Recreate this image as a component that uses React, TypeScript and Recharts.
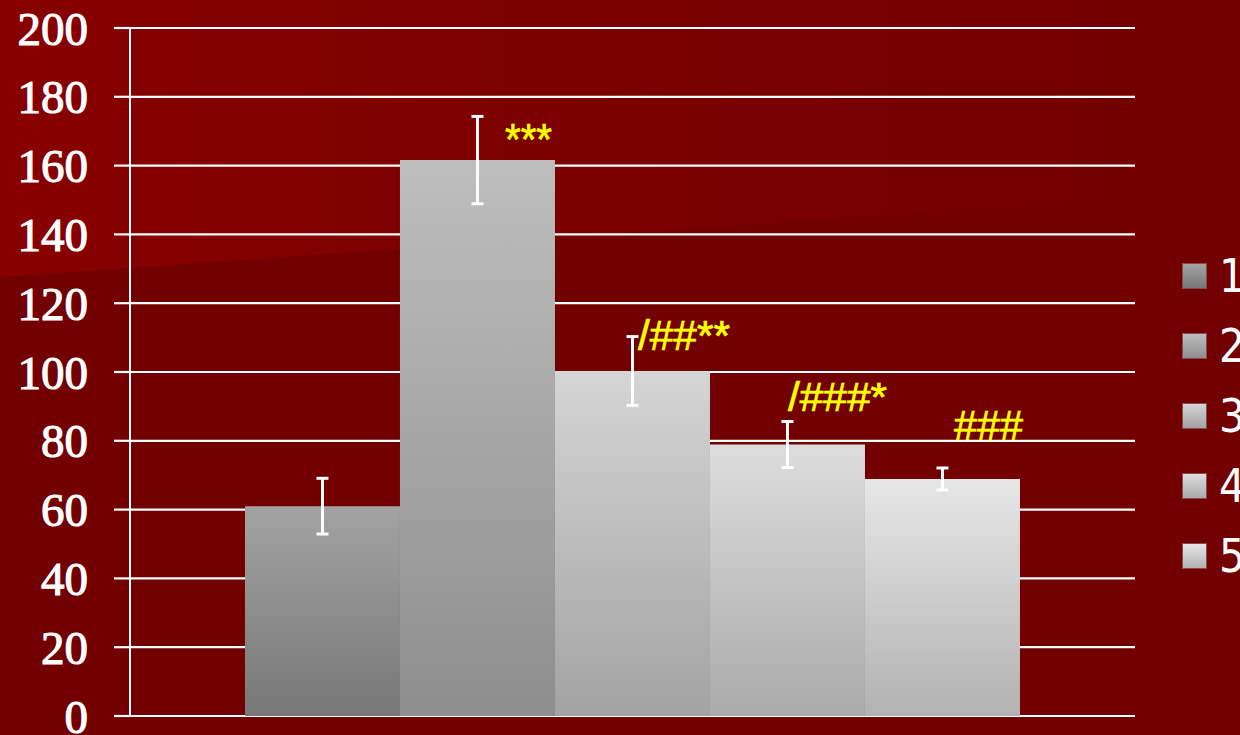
import React from 'react';
import { BarChart, Bar, XAxis, YAxis, CartesianGrid, ErrorBar, Legend, LabelList } from 'recharts';

const CATEGORIES = [''];
const SERIES = ['1', '2', '3', '4', '5'];
const VALUES = [61.0, 161.6, 100.3, 78.9, 68.9];
const ERRORS = [8.1, 12.7, 10.0, 6.7, 3.2];
const ANNOTATIONS = ['', '***', '/##**', '/###*', '###'];
const Y_TICKS = [0, 20, 40, 60, 80, 100, 120, 140, 160, 180, 200];

const TOP_COLORS = ['#a3a3a3', '#bebebe', '#d5d5d5', '#dddddd', '#e7e7e7'];
const BOTTOM_COLORS = ['#777777', '#8e8e8e', '#a3a3a3', '#aaaaaa', '#b2b2b2'];
const ANNOT_STYLE = [
  { dx: 0, dy: 0, size: 30, len: 0 },
  { dx: 105, dy: -5, size: 44, len: 47 },
  { dx: 83, dy: -21, size: 42, len: 92 },
  { dx: 78, dy: -34, size: 40, len: 99 },
  { dx: 89, dy: -39, size: 43, len: 69 },
];

const W = 1240;
const H = 735;
const MARGIN = { top: 28, right: 105, bottom: 19, left: 0 };
const Y_AXIS_W = 130;
const HALF_BAND = (W - MARGIN.right - Y_AXIS_W) / 2;

const data = CATEGORIES.map((name) => {
  const row: any = { name };
  SERIES.forEach((_, i) => {
    row['v' + i] = VALUES[i];
    row['e' + i] = ERRORS[i];
    row['a' + i] = ANNOTATIONS[i];
  });
  return row;
});

const renderLegend = (props: any) => {
  const payload = props.payload || [];
  return (
    <div style={{ display: 'flex', flexDirection: 'column' }}>
      {payload.map((p: any, i: number) => {
        const idx = SERIES.indexOf(String(p.value));
        return (
          <div key={i} style={{ height: 70, display: 'flex', alignItems: 'center' }}>
            <div
              style={{
                width: 25,
                height: 26,
                background: `linear-gradient(${TOP_COLORS[idx]}, ${BOTTOM_COLORS[idx]})`,
                border: '1px solid #8c4a4a',
                boxSizing: 'border-box',
              }}
            />
            <span
              style={{
                marginLeft: 12,
                color: '#ffffff',
                fontSize: 46,
                lineHeight: '70px',
                fontFamily: "'Liberation Sans Narrow', 'DejaVu Sans Condensed', 'Liberation Sans', sans-serif",
              }}
            >
              {p.value}
            </span>
          </div>
        );
      })}
    </div>
  );
};

const makeAnnot = (i: number) => (props: any) => {
  const { x, y, value } = props;
  if (!value) return null;
  const st = ANNOT_STYLE[i];
  return (
    <text
      x={Number(x) + st.dx}
      y={Number(y) + st.dy}
      fill="#ffff00"
      stroke="#ffff00"
      strokeWidth={0.7}
      fontSize={st.size}
      fontFamily="'Liberation Sans', Arial, sans-serif"
      textLength={st.len}
      lengthAdjust="spacingAndGlyphs"
    >
      {value}
    </text>
  );
};

const XTick = (props: any) => {
  const { x, y } = props;
  return (
    <g>
      <line x1={x - HALF_BAND} y1={y} x2={x - HALF_BAND} y2={y + 15} stroke="#ffffff" strokeWidth={2} />
      <line x1={x + HALF_BAND} y1={y} x2={x + HALF_BAND} y2={y + 15} stroke="#ffffff" strokeWidth={2} />
    </g>
  );
};

export default function App() {
  return (
    <div style={{ position: 'absolute', left: 0, top: 0, width: W, height: H, overflow: 'hidden', background: '#720000' }}>
      <svg width={W} height={H} style={{ position: 'absolute', left: 0, top: 0 }}>
        <defs>
          <linearGradient id="bgGrad" x1="0" y1="0" x2="1" y2="0">
            <stop offset="0%" stopColor="#880000" />
            <stop offset="45%" stopColor="#7c0000" />
            <stop offset="100%" stopColor="#710000" />
          </linearGradient>
        </defs>
        <rect x={0} y={0} width={W} height={H} fill="#720000" />
        <polygon points={`0,0 ${W},0 ${W},190 0,277`} fill="url(#bgGrad)" />
      </svg>
      <div style={{ position: 'absolute', left: 0, top: 0 }}>
        <BarChart
          width={W}
          height={H}
          data={data}
          margin={MARGIN}
          barGap={0}
          barCategoryGap="11.44%"
        >
          <defs>
            {SERIES.map((_, i) => (
              <linearGradient key={i} id={'barGrad' + i} x1="0" y1="0" x2="0" y2="1">
                <stop offset="0%" stopColor={TOP_COLORS[i]} />
                <stop offset="100%" stopColor={BOTTOM_COLORS[i]} />
              </linearGradient>
            ))}
          </defs>
          <CartesianGrid horizontal vertical={false} stroke="#ffffff" strokeWidth={2.2} strokeOpacity={1} />
          <XAxis
            dataKey="name"
            height={0}
            axisLine={{ stroke: '#ffffff', strokeWidth: 2 }}
            tickLine={false}
            tickSize={0}
            tickMargin={0}
            tick={<XTick />}
          />
          <YAxis
            width={Y_AXIS_W}
            domain={[0, 200]}
            ticks={Y_TICKS}
            interval={0}
            axisLine={{ stroke: '#ffffff', strokeWidth: 2 }}
            tickLine={{ stroke: '#ffffff', strokeWidth: 2.2 }}
            tickSize={16}
            tickMargin={26}
            tick={{
              fill: '#ffffff',
              stroke: '#ffffff',
              strokeWidth: 1.1,
              fontSize: 47,
              fontFamily: "'Liberation Serif', 'Times New Roman', serif",
            }}
          />
          <Legend
            layout="vertical"
            align="center"
            verticalAlign="middle"
            content={renderLegend}
            wrapperStyle={{ left: 1182, top: 241, width: 80 }}
          />
          {SERIES.map((s, i) => (
            <Bar key={s} dataKey={'v' + i} name={s} fill={`url(#barGrad${i})`} isAnimationActive={false}>
              <ErrorBar dataKey={'e' + i} direction="y" stroke="#ffffff" strokeWidth={3} width={6} />
              <LabelList dataKey={'a' + i} content={makeAnnot(i)} />
            </Bar>
          ))}
        </BarChart>
      </div>
    </div>
  );
}
